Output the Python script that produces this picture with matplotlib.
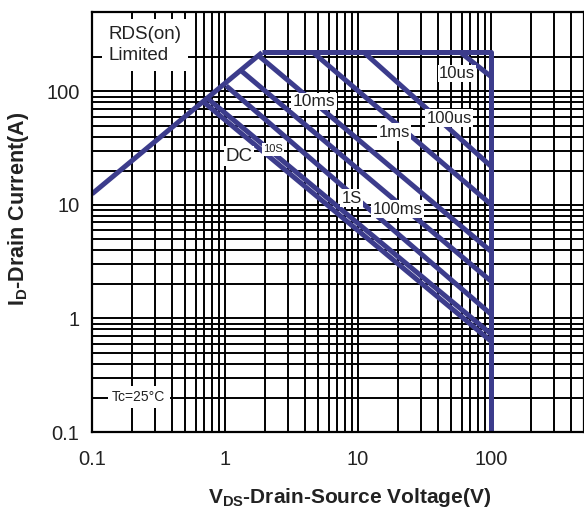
import matplotlib
matplotlib.use("Agg")
import matplotlib.pyplot as plt
import numpy as np

plt.rcParams['font.family'] = ['Liberation Sans', 'DejaVu Sans']

# RDS(on) limit line and outer limit (flat + vertical at 100 V)
rds_v = [0.1, 1.9]
rds_i = [12.5, 220]
limit_v = [1.9, 100, 100]
limit_i = [220, 220, 0.1]

# Pulse-width lines: start point -> end point at V=100
pulse_labels = ['10us', '100us', '1ms', '10ms', '100ms', '1S', '10S', 'DC']
start_v = [59, 11.1, 4.6, 1.8, 1.34, 1.02, 0.745, 0.695]
start_i = [220, 220, 220, 205, 150, 112, 86, 80]
end_v = [100, 100, 100, 100, 100, 100, 100, 100]
end_i = [135, 21.9, 10.1, 3.9, 2.13, 1.09, 0.73, 0.63]

# Label positions
label_v = [55.5, 48.3, 18.7, 4.67, 19.9, 9.0, 2.3, 1.27]
label_i = [144, 57.9, 43.6, 81.6, 9.17, 11.5, 30.9, 26.8]
label_size = [12, 12, 12, 12.5, 12, 12, 8, 13.5]

x_ticks = [0.1, 1, 10, 100]
x_ticklabels = ['0.1', '1', '10', '100']
y_ticks = [0.1, 1, 10, 100]
y_ticklabels = ['0.1', '1', '10', '100']

blue = '#3c3c8c'

fig = plt.figure(figsize=(5.84, 5.16), dpi=100)
ax = fig.add_axes([92/584, 1-432/516, 1-92/584, (432-12)/516])
ax.set_xscale('log')
ax.set_yscale('log')
ax.set_xlim(0.1, 500)
ax.set_ylim(0.1, 500)

# grid lines
grid_x = []
for d in [0.1, 1, 10]:
    grid_x += [d*k for k in range(1, 10)]
grid_x += [100, 200, 300, 400]
grid_y = []
for d in [0.1, 1, 10]:
    grid_y += [d*k for k in range(1, 10)]
grid_y += [100, 200]
for gx in grid_x:
    ax.axvline(gx, color='black', lw=1.4, zorder=1)
for gy in grid_y:
    ax.axhline(gy, color='black', lw=1.4, zorder=1)

lw = 3.6
ax.plot(rds_v, rds_i, color=blue, lw=lw, zorder=3, solid_capstyle='butt')
ax.plot(limit_v, limit_i, color=blue, lw=lw, zorder=3, solid_capstyle='butt')
for sv, si, ev, ei in zip(start_v, start_i, end_v, end_i):
    ax.plot([sv, ev], [si, ei], color=blue, lw=lw, zorder=3, solid_capstyle='butt')

for lab, lv, li, fs in zip(pulse_labels, label_v, label_i, label_size):
    ax.text(lv, li, lab, fontsize=fs, ha='center', va='center', zorder=5,
            color='#222222',
            bbox=dict(facecolor='white', edgecolor='none', pad=1.0))

ax.text(0.133, 255, 'RDS(on)\nLimited', fontsize=13.5, ha='left', va='center',
        linespacing=1.3, zorder=5, color='#222222',
        bbox=dict(facecolor='white', edgecolor='none', pad=5))
ax.text(0.225, 0.204, 'Tc=25°C', fontsize=10, ha='center', va='center', zorder=5,
        color='#222222',
        bbox=dict(facecolor='white', edgecolor='none', pad=3))

ax.set_xticks(x_ticks)
ax.set_xticklabels(x_ticklabels, fontsize=14.5)
ax.set_yticks(y_ticks)
ax.set_yticklabels(y_ticklabels, fontsize=14.5)
ax.xaxis.set_minor_locator(matplotlib.ticker.NullLocator())
ax.yaxis.set_minor_locator(matplotlib.ticker.NullLocator())
ax.tick_params(length=0, pad=13, colors='#222222')
ax.tick_params(axis='y', pad=9)

for s in ax.spines.values():
    s.set_linewidth(1.6)
    s.set_color('black')
    s.set_zorder(6)

ax.set_xlabel(r'V$\mathregular{_{DS}}$-Drain-Source Voltage(V)', fontsize=15,
              fontweight='bold', color='#222222')
ax.set_ylabel(r'I$\mathregular{_{D}}$-Drain Current(A)', fontsize=15.5,
              fontweight='bold', color='#222222')
ax.xaxis.set_label_coords((350-92)/492, -(486-432)/420)
ax.yaxis.set_label_coords(-(92-31)/492, (432-209)/420)

fig.savefig('out.png', dpi=100)
